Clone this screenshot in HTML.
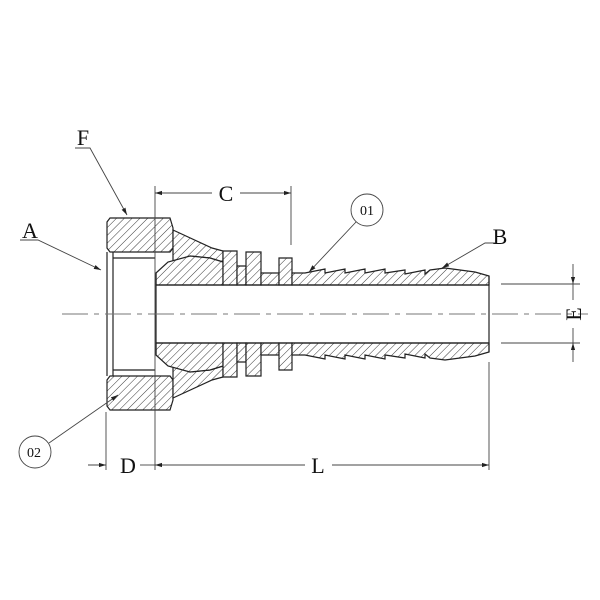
<!DOCTYPE html>
<html><head><style>body{margin:0;background:#fff}svg{display:block}text{font-family:"Liberation Serif",serif;fill:#111}</style></head><body>
<svg width="600" height="600" viewBox="0 0 600 600" xmlns="http://www.w3.org/2000/svg">
<defs>
<pattern id="h" patternUnits="userSpaceOnUse" width="5.5" height="5.5" patternTransform="rotate(45)">
<rect width="6" height="6" fill="#fff"/><line x1="0" y1="0" x2="0" y2="6" stroke="#222" stroke-width="0.9"/></pattern>
<marker id="ar" viewBox="0 0 10 10" refX="10" refY="5" markerWidth="8" markerHeight="8" orient="auto-start-reverse"><path d="M0,2 L10,5 L0,8z" fill="#222"/></marker>
</defs>
<g stroke="#222" stroke-width="1.2" fill="url(#h)">
<path d="M110,218 H170 L173,228 V248 L170,252 H110 L107,248 V222z"/>
<path d="M110,410 H170 L173,400 V380 L170,376 H110 L107,380 V406z"/>
<path d="M173,230 L212,248 L223,251 V262 L210,258 L190,256 L173,263z"/>
<path d="M173,398 L212,380 L223,377 V366 L210,370 L190,372 L173,365z"/>
<path d="M156,273 L168,262 L190,256 L210,258 L223,262 V285 H156z"/>
<path d="M156,355 L168,366 L190,372 L210,370 L223,366 V343 H156z"/>
<path d="M223,251 H237 V285 H223z"/><path d="M223,377 H237 V343 H223z"/>
<path d="M237,266 H246 V285 H237z"/><path d="M237,362 H246 V343 H237z"/>
<path d="M246,252 H261 V285 H246z"/><path d="M246,376 H261 V343 H246z"/>
<path d="M261,273 H279 V285 H261z"/><path d="M261,355 H279 V343 H261z"/>
<path d="M279,258 H292 V285 H279z"/><path d="M279,370 H292 V343 H279z"/>
<path d="M292,273 L305,273 L325,269 V273 L345,269 V273 L365,269 V273 L385,269 V273 L405,270 V274 L425,270 V274 L430,270 L445,268 L460,270 L475,272 L489,276 V285 H292z"/>
<path d="M292,355 L305,355 L325,359 V355 L345,359 V355 L365,359 V355 L385,359 V355 L405,358 V354 L425,358 V354 L430,358 L445,360 L460,358 L475,356 L489,352 V343 H292z"/>
</g>
<g stroke="#222" stroke-width="1.2" fill="none">
<path d="M107,252 V376 M113,252 V376 M113,258 H155 M113,370 H155 M156,273 V355"/>
<line x1="156" y1="285" x2="489" y2="285"/><line x1="156" y1="343" x2="489" y2="343"/>
<line x1="489" y1="276" x2="489" y2="352"/>
</g>
<line x1="62" y1="314" x2="588" y2="314" stroke="#777" stroke-width="1" stroke-dasharray="26,6,5,6"/>
<g stroke="#444" stroke-width="0.9" fill="none">
<line x1="155" y1="186" x2="155" y2="470"/><line x1="291" y1="186" x2="291" y2="245"/>
<line x1="106" y1="412" x2="106" y2="470"/><line x1="489" y1="362" x2="489" y2="470"/>
<line x1="501" y1="284" x2="580" y2="284"/><line x1="501" y1="343" x2="580" y2="343"/>
<line x1="155" y1="193" x2="212" y2="193" marker-start="url(#ar)"/><line x1="240" y1="193" x2="291" y2="193" marker-end="url(#ar)"/>
<line x1="88" y1="465" x2="106" y2="465" marker-end="url(#ar)"/><line x1="140" y1="465" x2="155" y2="465"/>
<line x1="155" y1="465" x2="305" y2="465" marker-start="url(#ar)"/><line x1="332" y1="465" x2="489" y2="465" marker-end="url(#ar)"/>
<line x1="573" y1="264" x2="573" y2="284" marker-end="url(#ar)"/>
<line x1="573" y1="362" x2="573" y2="343" marker-end="url(#ar)"/>
<line x1="573" y1="284" x2="573" y2="300"/><line x1="573" y1="328" x2="573" y2="343"/>
<polyline points="75,148 90,148 127,215" marker-end="url(#ar)"/>
<polyline points="20,240 38,240 101,270" marker-end="url(#ar)"/>
<polyline points="495,243 485,243 442,268" marker-end="url(#ar)"/>
<line x1="356" y1="222" x2="309" y2="272" marker-end="url(#ar)"/>
<line x1="49" y1="443" x2="118" y2="395" marker-end="url(#ar)"/>
<circle cx="367" cy="210" r="16"/><circle cx="35" cy="452" r="16"/>
</g>
<g font-size="22">
<text x="226" y="201" text-anchor="middle">C</text>
<text x="128" y="473" text-anchor="middle">D</text>
<text x="318" y="473" text-anchor="middle">L</text>
<text x="83" y="145" text-anchor="middle">F</text>
<text x="30" y="238" text-anchor="middle">A</text>
<text x="500" y="244" text-anchor="middle">B</text>
<text transform="translate(581,314) rotate(-90)" text-anchor="middle">E</text>
</g>
<g font-size="14"><text x="367" y="215" text-anchor="middle">01</text><text x="34" y="457" text-anchor="middle">02</text></g>
</svg>
</body></html>
